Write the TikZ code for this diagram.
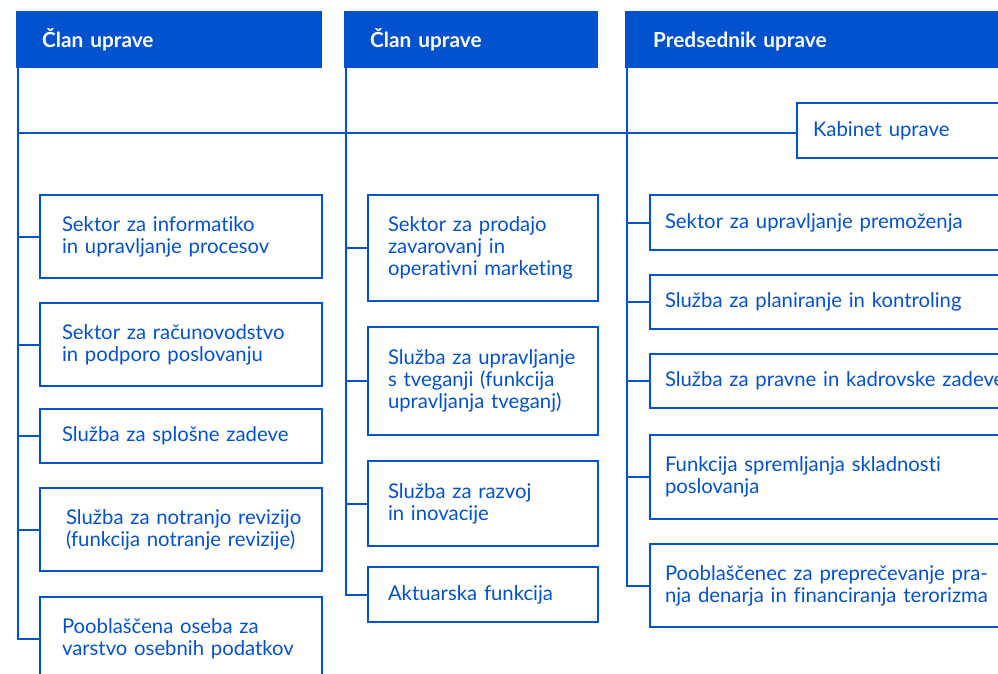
\documentclass[tikz,border=0pt]{standalone}
\usepackage{fontspec}
\setmainfont{Lato}[Ligatures=NoCommon]
\definecolor{cblue}{RGB}{2,82,208}
\begin{document}
\begin{tikzpicture}[x=1pt,y=-1pt,
  box/.style={draw=cblue, line width=2pt, text=cblue, anchor=north west, align=left,
    inner xsep=22pt, inner ysep=0pt, font=\fontsize{20.3}{22}\selectfont},
  hdr/.style={fill=cblue, text=white, anchor=north west, align=left, inner xsep=26pt,
    inner ysep=0pt, minimum height=57pt, text height=18pt, text depth=3pt,
    font=\bfseries\fontsize{20.8}{22}\selectfont},
  conn/.style={draw=cblue, line width=2pt}]
\useasboundingbox (0,0) rectangle (998,673);
\clip (0,0) rectangle (998,673);
% headers
\node[hdr, text width=254pt] (h1) at (16,11) {Član uprave};
\node[hdr, text width=202pt] (h2) at (344,11) {Član uprave};
\node[hdr, inner xsep=28pt, text width=340pt] (h3) at (625,11) {Predsednik uprave};
\coordinate (s1) at (18,68);
\coordinate (s2) at (346,68);
\coordinate (s3) at (627,68);
\coordinate (hk) at (0,133);
% Kabinet
\node[box, inner xsep=16pt, text width=200pt, minimum height=55pt] (kab) at (796,102) {Kabinet uprave};
% left column
\node[box, text width=238pt, minimum height=83pt] (l1) at (39,194) {Sektor za informatiko\\in upravljanje procesov};
\node[box, text width=238pt, minimum height=83pt] (l2) at (39,302) {Sektor za računovodstvo\\in podporo poslovanju};
\node[box, text width=238pt, minimum height=54pt] (l3) at (39,408) {Služba za splošne zadeve};
\node[box, inner xsep=26pt, text width=230pt, minimum height=83pt] (l4) at (39,487) {\mbox{Služba za notranjo revizijo}\\\mbox{(funkcija notranje revizije)}};
\node[box, text width=238pt, minimum height=83pt] (l5) at (39,596) {Pooblaščena oseba za\\varstvo osebnih podatkov};
% middle column
\node[box, inner xsep=20pt, text width=190pt, minimum height=106pt] (m1) at (367,194) {Sektor za prodajo\\zavarovanj in\\operativni marketing};
\node[box, inner xsep=20pt, text width=190pt, minimum height=108pt] (m2) at (367,326) {Služba za upravljanje\\s tveganji (funkcija\\upravljanja tveganj)};
\node[box, inner xsep=20pt, text width=190pt, minimum height=85pt] (m3) at (367,460) {Služba za razvoj\\in inovacije};
\node[box, inner xsep=20pt, text width=190pt, minimum height=55pt] (m4) at (367,566) {Aktuarska funkcija};
% right column
\node[box, inner xsep=15pt, text width=340pt, minimum height=55pt] (r1) at (649,194) {Sektor za upravljanje premoženja};
\node[box, inner xsep=15pt, text width=340pt, minimum height=54pt] (r2) at (649,274) {Služba za planiranje in kontroling};
\node[box, inner xsep=15pt, text width=340pt, minimum height=54pt] (r3) at (649,353) {Služba za pravne in kadrovske zadeve};
\node[box, inner xsep=15pt, text width=340pt, minimum height=84pt] (r4) at (649,434) {Funkcija spremljanja skladnosti\\poslovanja};
\node[box, inner xsep=15pt, text width=340pt, minimum height=83pt] (r5) at (649,543) {Pooblaščenec za preprečevanje pra-\\nja denarja in financiranja terorizma};
% connectors
\draw[conn] (s1 |- hk) -- (kab.west |- hk);
\foreach \n in {l1,l2,l3,l4,l5} \draw[conn] (s1) |- (\n.west);
\foreach \n in {m1,m2,m3,m4} \draw[conn] (s2) |- (\n.west);
\foreach \n in {r1,r2,r3,r4,r5} \draw[conn] (s3) |- (\n.west);
\end{tikzpicture}
\end{document}
